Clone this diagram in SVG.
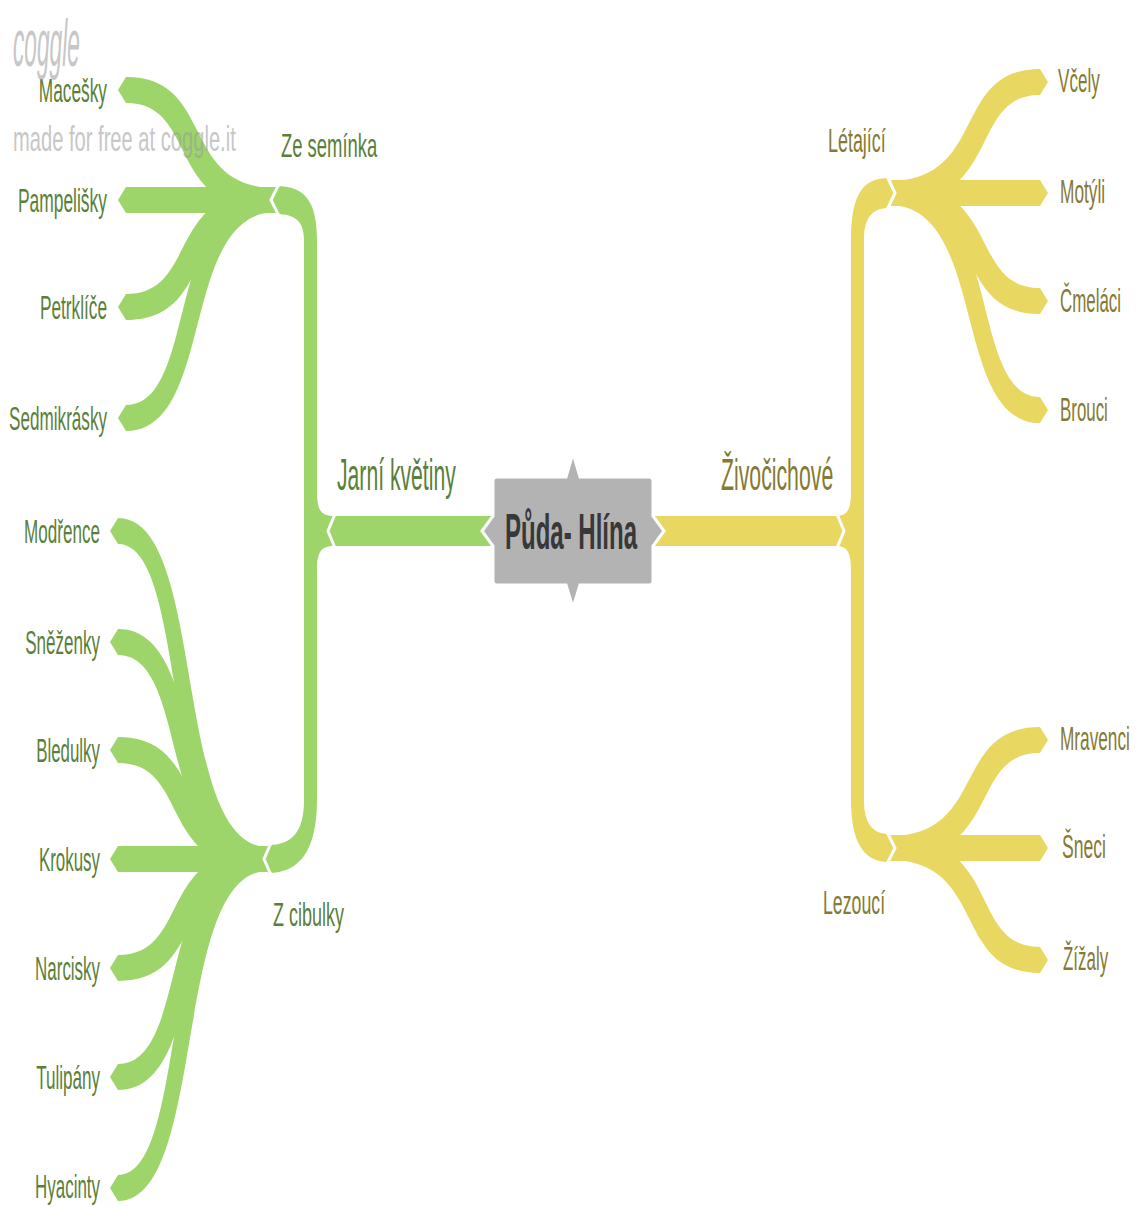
<svg xmlns="http://www.w3.org/2000/svg" width="1137" height="1207" viewBox="0 0 1137 1207">
<style>
.g{fill:#9dd56a}
.y{fill:#e8d862}
.gap{fill:none;stroke:#fff;stroke-width:3;stroke-linejoin:miter}
text{font-family:"Liberation Sans",Arial,sans-serif}
.tg{fill:#5a7f3a;font-size:33px}
.ty{fill:#857a33;font-size:33px}
.t1g{fill:#5a7f3a;font-size:45px}
.t1y{fill:#857a33;font-size:45px}
.tc{fill:#383838;font-size:50px;font-weight:bold}
.wm{fill:#9a9a9a;opacity:0.55}
</style>
<rect width="1137" height="1207" fill="#fff"/>
<g id="connectors">
  <path class="g" d="M330,516 L495,516 L495,546 L330,546 Z"/>
  <path class="y" d="M651,516 L846,516 L846,546 L651,546 Z"/>
  <path class="g" d="M276,186 C304,186 317,200 317,240 L317,492 C317,510 321,516 334,516 L334,531 L304,531 L304,240 C304,222 296,214 276,214 Z"/>
  <path class="g" d="M304,531 L334,531 L334,546 C321,546 317,552 317,570 L317,800 C317,850 300,873 268,873 L268,845 C292,845 304,832 304,800 Z"/>
  <path class="y" d="M889,178 C863,178 851,194 851,240 L851,492 C851,510 847,516 836,516 L836,531 L864,531 L864,240 C864,218 872,208 889,208 Z"/>
  <path class="y" d="M836,546 C847,546 851,552 851,570 L851,800 C851,846 866,862 889,862 L889,834 C874,834 864,825 864,800 L864,531 L836,531 Z"/>
  <path class="g" d="M126,77 C216,77 179,188 276,188 L276,212 C163,212 200,103 126,103 L118,90 Z"/>
  <path class="g" d="M126,187 L276,187 L276,213 L126,213 L118,200 Z"/>
  <path class="g" d="M126,294 C200,294 163,188 276,188 L276,212 C179,212 216,320 126,320 L118,307 Z"/>
  <path class="g" d="M126,405 C200,405 163,188 276,188 L276,212 C179,212 216,431 126,431 L118,418 Z"/>
  <path class="g" d="M118,518 C208,518 171,847 268,847 L268,871 C155,871 192,544 118,544 L110,531 Z"/>
  <path class="g" d="M118,629 C208,629 171,847 268,847 L268,871 C155,871 192,655 118,655 L110,642 Z"/>
  <path class="g" d="M118,737 C208,737 171,847 268,847 L268,871 C155,871 192,763 118,763 L110,750 Z"/>
  <path class="g" d="M118,846 L268,846 L268,872 L118,872 L110,859 Z"/>
  <path class="g" d="M118,955 C192,955 155,847 268,847 L268,871 C171,871 208,981 118,981 L110,968 Z"/>
  <path class="g" d="M118,1064 C192,1064 155,847 268,847 L268,871 C171,871 208,1090 118,1090 L110,1077 Z"/>
  <path class="g" d="M118,1175 C192,1175 155,847 268,847 L268,871 C171,871 208,1201 118,1201 L110,1188 Z"/>
  <path class="y" d="M889,181 C988,181 951,69 1040,69 L1048,82 L1040,95 C967,95 1004,205 889,205 Z"/>
  <path class="y" d="M889,180 L1040,180 L1048,193 L1040,206 L889,206 Z"/>
  <path class="y" d="M889,181 C1004,181 967,288 1040,288 L1048,301 L1040,314 C951,314 988,205 889,205 Z"/>
  <path class="y" d="M889,181 C1004,181 967,397 1040,397 L1048,410 L1040,423 C951,423 988,205 889,205 Z"/>
  <path class="y" d="M889,836 C988,836 951,727 1040,727 L1048,740 L1040,753 C967,753 1004,860 889,860 Z"/>
  <path class="y" d="M889,835 L1040,835 L1048,848 L1040,861 L889,861 Z"/>
  <path class="y" d="M889,836 C1004,836 967,947 1040,947 L1048,960 L1040,973 C951,973 988,860 889,860 Z"/>
  <polyline class="gap" points="279,184 271,200 279,216"/>
  <polyline class="gap" points="335,514 328,531 335,548"/>
  <polyline class="gap" points="271,843 264,859 271,875"/>
  <polyline class="gap" points="837,514 844,531 837,548"/>
  <polyline class="gap" points="887,176 895,193 887,210"/>
  <polyline class="gap" points="887,832 895,848 887,864"/>
</g>
<g id="node-center">
  <path d="M497,477 L566,477 L573,453 L580,477 L649,477 Q653,477 653,481 L653,516 L664,531 L653,546 L653,581 Q653,585 649,585 L580,585 L573,608 L566,585 L497,585 Q493,585 493,581 L493,546 L482,531 L493,516 L493,481 Q493,477 497,477 Z" fill="#b3b3b3" stroke="#fff" stroke-width="3"/>
  <text class="tc" transform="translate(505,549) scale(0.55,1)" textLength="240" lengthAdjust="spacingAndGlyphs">Půda- Hlína</text>
</g>
<g id="node-jarni"><text class="t1g" transform="translate(337,490) scale(0.55,1)" textLength="216" lengthAdjust="spacingAndGlyphs">Jarní květiny</text></g>
<g id="node-zivocichove"><text class="t1y" transform="translate(721,490) scale(0.55,1)" textLength="204" lengthAdjust="spacingAndGlyphs">Živočichové</text></g>
<g id="node-zeseminka"><text class="tg" transform="translate(281,157) scale(0.55,1)" textLength="175" lengthAdjust="spacingAndGlyphs">Ze semínka</text></g>
<g id="node-zcibulky"><text class="tg" transform="translate(273,926) scale(0.55,1)" textLength="129" lengthAdjust="spacingAndGlyphs">Z cibulky</text></g>
<g id="node-letajici"><text class="ty" transform="translate(828,152) scale(0.55,1)" textLength="105" lengthAdjust="spacingAndGlyphs">Létající</text></g>
<g id="node-lezouci"><text class="ty" transform="translate(823,914) scale(0.55,1)" textLength="113" lengthAdjust="spacingAndGlyphs">Lezoucí</text></g>
<g id="node-macesky"><text class="tg" transform="translate(107,102) scale(0.55,1)" text-anchor="end" textLength="124" lengthAdjust="spacingAndGlyphs">Macešky</text></g>
<g id="node-pampelisky"><text class="tg" transform="translate(107,212) scale(0.55,1)" text-anchor="end" textLength="162" lengthAdjust="spacingAndGlyphs">Pampelišky</text></g>
<g id="node-petrklice"><text class="tg" transform="translate(107,319) scale(0.55,1)" text-anchor="end" textLength="122" lengthAdjust="spacingAndGlyphs">Petrklíče</text></g>
<g id="node-sedmikrasky"><text class="tg" transform="translate(107,430) scale(0.55,1)" text-anchor="end" textLength="178" lengthAdjust="spacingAndGlyphs">Sedmikrásky</text></g>
<g id="node-modrence"><text class="tg" transform="translate(100,543) scale(0.55,1)" text-anchor="end" textLength="138" lengthAdjust="spacingAndGlyphs">Modřence</text></g>
<g id="node-snezenky"><text class="tg" transform="translate(100,654) scale(0.55,1)" text-anchor="end" textLength="136" lengthAdjust="spacingAndGlyphs">Sněženky</text></g>
<g id="node-bledulky"><text class="tg" transform="translate(100,762) scale(0.55,1)" text-anchor="end" textLength="116" lengthAdjust="spacingAndGlyphs">Bledulky</text></g>
<g id="node-krokusy"><text class="tg" transform="translate(100,871) scale(0.55,1)" text-anchor="end" textLength="111" lengthAdjust="spacingAndGlyphs">Krokusy</text></g>
<g id="node-narcisky"><text class="tg" transform="translate(100,980) scale(0.55,1)" text-anchor="end" textLength="118" lengthAdjust="spacingAndGlyphs">Narcisky</text></g>
<g id="node-tulipany"><text class="tg" transform="translate(100,1089) scale(0.55,1)" text-anchor="end" textLength="116" lengthAdjust="spacingAndGlyphs">Tulipány</text></g>
<g id="node-hyacinty"><text class="tg" transform="translate(100,1198) scale(0.55,1)" text-anchor="end" textLength="118" lengthAdjust="spacingAndGlyphs">Hyacinty</text></g>
<g id="node-vcely"><text class="ty" transform="translate(1058,92) scale(0.55,1)" textLength="76" lengthAdjust="spacingAndGlyphs">Včely</text></g>
<g id="node-motyli"><text class="ty" transform="translate(1060,203) scale(0.55,1)" textLength="82" lengthAdjust="spacingAndGlyphs">Motýli</text></g>
<g id="node-cmelaci"><text class="ty" transform="translate(1060,312) scale(0.55,1)" textLength="111" lengthAdjust="spacingAndGlyphs">Čmeláci</text></g>
<g id="node-brouci"><text class="ty" transform="translate(1060,421) scale(0.55,1)" textLength="87" lengthAdjust="spacingAndGlyphs">Brouci</text></g>
<g id="node-mravenci"><text class="ty" transform="translate(1060,750) scale(0.55,1)" textLength="127" lengthAdjust="spacingAndGlyphs">Mravenci</text></g>
<g id="node-sneci"><text class="ty" transform="translate(1062,858) scale(0.55,1)" textLength="80" lengthAdjust="spacingAndGlyphs">Šneci</text></g>
<g id="node-zizaly"><text class="ty" transform="translate(1063,970) scale(0.55,1)" textLength="82" lengthAdjust="spacingAndGlyphs">Žížaly</text></g>
<g id="watermark">
  <text class="wm" transform="translate(13,66) scale(0.4,1)" font-size="66" font-style="italic" textLength="167" lengthAdjust="spacingAndGlyphs">coggle</text>
  <text class="wm" transform="translate(13,151) scale(0.55,1)" font-size="35" textLength="405" lengthAdjust="spacingAndGlyphs">made for free at coggle.it</text>
</g>
</svg>
